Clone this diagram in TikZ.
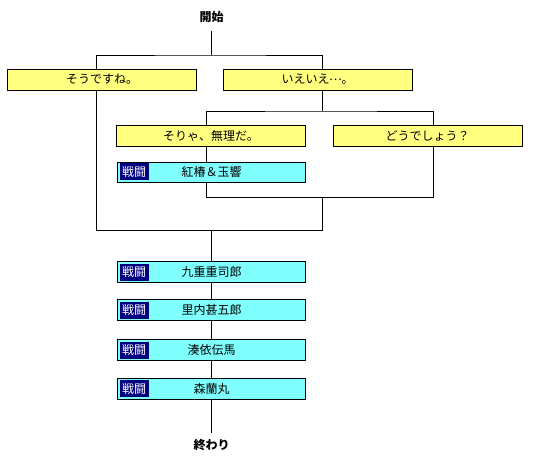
\documentclass[tikz,border=0pt]{standalone}
\usepackage{fontspec}
\setmainfont{Noto Sans CJK JP}
\usepackage{tikz}
\usetikzlibrary{positioning}
\definecolor{myYellow}{HTML}{FFFF80}
\definecolor{myCyan}{HTML}{80FFFF}
\definecolor{myNavy}{HTML}{000080}
\newcommand{\midellip}{\raisebox{0.32em}{\makebox[1em]{…}}}
\begin{document}
\begin{tikzpicture}[x=1pt, y=-1pt, line width=0.8pt, font=\fontsize{12}{14}\selectfont]
\tikzstyle{choice}=[draw=black, fill=myYellow, minimum width=189pt, minimum height=21pt, inner sep=0pt]
\tikzstyle{battle}=[draw=black, fill=myCyan, minimum width=188pt, minimum height=21pt, inner sep=0pt]
\tikzstyle{tag}=[fill=myNavy, text=white, minimum width=29pt, minimum height=17pt, inner sep=0pt, font=\fontsize{12}{13}\selectfont]
\tikzstyle{term}=[inner sep=0pt, font=\fontsize{12}{14}\selectfont\bfseries]
\useasboundingbox (0,0) rectangle (533,468);
\node[term, minimum height=28pt] (start) at (211.5,17) {開始};
\node[choice] (ans1) at (102,79.5) {そうですね。};
\node[choice] (ans2) at (317.5,79.5) {いえいえ\midellip。};
\node[choice] (q1) at (211,135.5) {そりゃ、無理だ。};
\node[choice] (q2) at (427.5,135.5) {どうでしょう？};
\node[battle, minimum height=20pt] (b1) at (211.5,172) {紅椿＆玉響};
\node[battle] (b2) at (211.5,272) {九重重司郎};
\node[battle] (b3) at (211.5,310) {里内甚五郎};
\node[battle] (b4) at (211.5,350) {湊依伝馬};
\node[battle] (b5) at (211.5,388.5) {森蘭丸};
\node[term, minimum height=24pt] (end) at (211.5,445) {終わり};
\foreach \b in {b1,b2,b3,b4,b5}
  \node[tag, right=2pt of \b.west] (t-\b) {戦闘};
% junctions
\coordinate (j1) at (211.5,55);
\coordinate (j2) at (322,111);
\coordinate (j3) at (322,197);
\coordinate (j4) at (211.5,230);
% first choice
\draw (start) -- (j1);
\draw ([xshift=-6pt]ans1.north) |- (j1) -| ([xshift=4.5pt]ans2.north);
\draw ([xshift=4.5pt]ans2.south) -- (j2);
% second choice
\draw ([xshift=-5pt]q1.north) |- (j2) -| ([xshift=5.5pt]q2.north);
\draw ([xshift=-5pt]q1.south) -- ([xshift=-5.5pt]b1.north);
\draw ([xshift=-5.5pt]b1.south) |- (j3);
\draw ([xshift=5.5pt]q2.south) |- (j3);
% merge
\draw ([xshift=-6pt]ans1.south) |- (j4);
\draw (j3) |- (j4);
\draw (j4) -- (b2);
\draw (b2) -- (b3);
\draw (b3) -- (b4);
\draw (b4) -- (b5);
\draw (b5) -- (end);
\end{tikzpicture}
\end{document}
